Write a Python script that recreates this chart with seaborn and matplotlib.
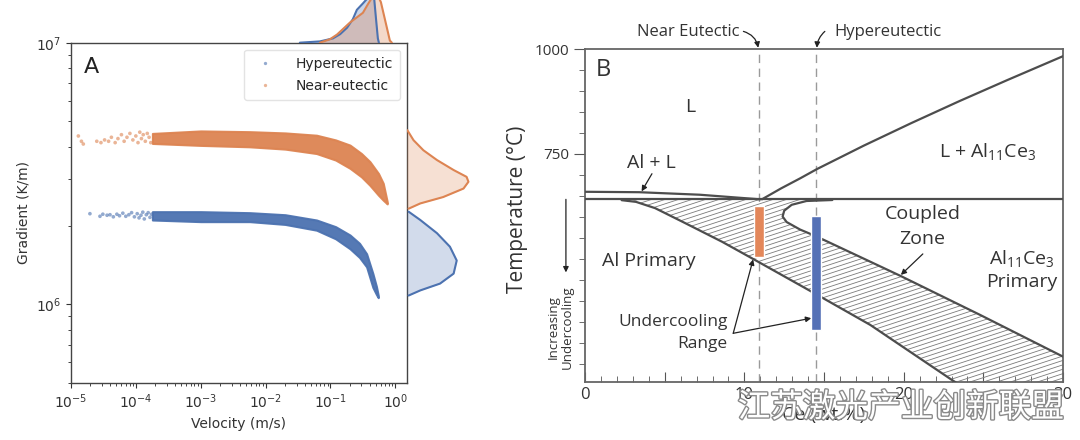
import numpy as np
import pandas as pd
import seaborn as sns
import matplotlib.pyplot as plt
import matplotlib.patheffects as pe
from matplotlib.patches import Polygon
from matplotlib.collections import LineCollection
from matplotlib.ticker import LogLocator, NullFormatter, MultipleLocator, FixedLocator

# ---------------- panel A: values ----------------
alloys = ["Hypereutectic", "Near-eutectic"]

# dense bands (velocity m/s, gradient K/m upper / lower edge)
hyper_v = [1.8e-4, 1e-3, 5.7e-3, 0.02, 0.061, 0.12, 0.2, 0.28, 0.36, 0.45, 0.51, 0.545]
hyper_hi = [2.26e6, 2.26e6, 2.24e6, 2.2e6, 2.10e6, 1.98e6, 1.84e6, 1.71e6, 1.56e6, 1.31e6, 1.17e6, 1.08e6]
hyper_lo = [2.1e6, 2.07e6, 2.07e6, 2.02e6, 1.92e6, 1.78e6, 1.63e6, 1.51e6, 1.39e6, 1.16e6, 1.09e6, 1.06e6]

near_v = [1.8e-4, 1e-3, 5.7e-3, 0.02, 0.061, 0.12, 0.2, 0.3, 0.405, 0.55, 0.65, 0.75]
near_hi = [4.5e6, 4.6e6, 4.57e6, 4.52e6, 4.43e6, 4.25e6, 4.06e6, 3.77e6, 3.51e6, 3.16e6, 2.9e6, 2.46e6]
near_lo = [4.12e6, 4.05e6, 4.0e6, 3.92e6, 3.77e6, 3.56e6, 3.31e6, 3.07e6, 2.85e6, 2.61e6, 2.5e6, 2.42e6]

# sparse points at low velocity
hyper_sp_v = [1.96e-5, 2.8e-5, 3.1e-5, 3.6e-5, 4.0e-5, 4.5e-5, 5.1e-5, 5.6e-5, 6.3e-5, 7.0e-5, 7.8e-5,
              8.6e-5, 9.5e-5, 1.05e-4, 1.12e-4, 1.2e-4, 1.28e-4, 1.35e-4, 1.45e-4, 1.55e-4, 1.65e-4, 1.75e-4]
hyper_sp_g = [2.22e6, 2.17e6, 2.21e6, 2.19e6, 2.2e6, 2.16e6, 2.21e6, 2.18e6, 2.23e6, 2.17e6, 2.2e6,
              2.24e6, 2.16e6, 2.22e6, 2.14e6, 2.19e6, 2.25e6, 2.12e6, 2.2e6, 2.24e6, 2.15e6, 2.21e6]
near_sp_v = [1.3e-5, 1.45e-5, 1.55e-5, 2.5e-5, 2.9e-5, 3.3e-5, 3.8e-5, 4.2e-5, 4.8e-5, 5.3e-5, 6.0e-5,
             6.6e-5, 7.3e-5, 8.1e-5, 9.0e-5, 1.0e-4, 1.08e-4, 1.15e-4, 1.22e-4, 1.3e-4, 1.4e-4, 1.5e-4,
             1.6e-4, 1.7e-4]
near_sp_g = [4.4e6, 4.2e6, 4.1e6, 4.2e6, 4.15e6, 4.25e6, 4.2e6, 4.35e6, 4.15e6, 4.3e6, 4.45e6,
             4.2e6, 4.35e6, 4.5e6, 4.25e6, 4.4e6, 4.15e6, 4.55e6, 4.3e6, 4.45e6, 4.2e6, 4.5e6,
             4.35e6, 4.15e6]

# marginal density of gradient (right) - relative units
hyper_kde_g = [2.26e6, 2.10e6, 1.87e6, 1.66e6, 1.47e6, 1.31e6, 1.20e6, 1.13e6, 1.08e6]
hyper_kde_d = [0.03, 0.22, 0.49, 0.70, 0.81, 0.76, 0.54, 0.22, 0.03]
near_kde_g = [4.63e6, 4.24e6, 3.88e6, 3.56e6, 3.26e6, 3.07e6, 2.94e6, 2.77e6, 2.57e6, 2.43e6, 2.32e6]
near_kde_d = [0.01, 0.11, 0.27, 0.49, 0.76, 0.97, 1.0, 0.92, 0.59, 0.22, 0.03]

# marginal density of velocity (top) - only the part below the figure edge is visible
hyper_top_v = [0.0337, 0.0687, 0.109, 0.141, 0.180, 0.221, 0.255, 0.316, 0.377, 0.434, 0.467, 0.50, 0.537, 0.557]
hyper_top_d = [0.0, 0.03, 0.1, 0.2, 0.35, 0.55, 0.77, 0.92, 1.05, 1.2, 1.1, 0.6, 0.1, 0.0]
near_top_v = [0.0687, 0.098, 0.126, 0.199, 0.316, 0.377, 0.434, 0.537, 0.598, 0.689, 0.766, 0.822, 0.883]
near_top_d = [0.0, 0.08, 0.19, 0.47, 0.7, 0.9, 1.05, 1.1, 0.95, 0.55, 0.25, 0.05, 0.0]

# ---------------- panel B: phase diagram values ----------------
ce_near, ce_hyper = 10.9, 14.5
eutectic_T = 642
al_liq_ce = [0, 3.4, 7.2, 11.0]
al_liq_T = [660, 659, 653, 642]
ce_liq_ce = [11.1, 12.3, 13.5, 14.55, 17.5, 20.5, 23.5, 26.5, 30]
ce_liq_T = [642, 668, 692, 714, 770, 824, 876, 926, 983]
left_ce = [2.3, 3.2, 4.4, 6.2, 8.6, 10.6, 14.6, 17.9, 23.1, 23.96]
left_T = [640, 636, 621, 587, 541, 499, 414, 343, 210, 190]
right_ce = [15.52, 13.9, 12.97, 12.5, 12.4, 12.65, 13.5, 14.55, 19.82, 24.8, 30.0]
right_T = [640.4, 638.1, 629.0, 615.0, 601.0, 588.0, 570.0, 553.2, 459.3, 366.7, 267.4]
bar_ce = [ce_near, ce_hyper]
bar_top = [627, 603]
bar_bottom = [504, 331]

blue, orange = sns.color_palette("deep")[0], sns.color_palette("deep")[1]
bar_colors = ["#e3875a", "#5571b6"]

sns.set_style("ticks")
plt.rcParams["font.family"] = ["DejaVu Sans"]
plt.rcParams["mathtext.rm"] = "Open Sans"
plt.rcParams["mathtext.it"] = "Open Sans:italic"
plt.rcParams["mathtext.bf"] = "Open Sans:bold"
fig = plt.figure(figsize=(10.8, 4.4), dpi=100)

# ---------------- panel A ----------------
axA = fig.add_axes([0.0657, 0.1295, 0.3108, 0.7734])
axR = fig.add_axes([0.3766, 0.1295, 0.0648, 0.7734], sharey=axA)
axT = fig.add_axes([0.0657, 0.903, 0.3108, 0.097], sharex=axA)

axA.set_xscale("log")
axA.set_yscale("log")
axA.set_xlim(1e-5, 1.49)
axA.set_ylim(5e5, 1e7)

axA.fill_between(hyper_v, hyper_lo, hyper_hi, color=blue, lw=1.5, edgecolor=blue, alpha=0.95)
axA.fill_between(near_v, near_lo, near_hi, color=orange, lw=1.5, edgecolor=orange, alpha=0.95)

pts = pd.DataFrame({
    "v": hyper_sp_v + near_sp_v,
    "g": hyper_sp_g + near_sp_g,
    "alloy": [alloys[0]] * len(hyper_sp_v) + [alloys[1]] * len(near_sp_v),
})
sns.scatterplot(data=pts, x="v", y="g", hue="alloy", hue_order=alloys,
                palette=[blue, orange], s=7, alpha=0.6, linewidth=0, ax=axA)
leg = axA.legend(loc="upper right", fontsize=10, markerscale=0.9, frameon=True,
                 borderpad=0.5, handletextpad=1.2, labelspacing=0.6)
leg.get_frame().set_edgecolor("#dddddd")

axA.set_xlabel("Velocity (m/s)", fontsize=10, color="#333333")
axA.set_ylabel("Gradient (K/m)", fontsize=10, color="#333333")
axA.xaxis.set_major_locator(LogLocator(base=10, numticks=10))
axA.yaxis.set_minor_formatter(NullFormatter())
axA.tick_params(labelsize=10, colors="#333333")
for s in axA.spines.values():
    s.set_color("#444444")
    s.set_linewidth(1.0)
axA.text(0.037, 0.958, "A", transform=axA.transAxes, fontsize=16, ha="left", va="top", color="#222222")

# right marginal
for g, d, c in [(hyper_kde_g, hyper_kde_d, blue), (near_kde_g, near_kde_d, orange)]:
    axR.fill_betweenx(g, 0, d, color=c, alpha=0.25, lw=0)
    sns.lineplot(x=d, y=g, orient="y", sort=False, color=c, lw=1.5, ax=axR)
axR.set_xlim(0, 1.134)
axR.axis("off")

# top marginal
for v, d, c in [(hyper_top_v, hyper_top_d, blue), (near_top_v, near_top_d, orange)]:
    axT.fill_between(v, 0, d, color=c, alpha=0.3, lw=0)
    sns.lineplot(x=v, y=d, sort=False, color=c, lw=1.5, ax=axT)
axT.set_ylim(0, 1)
axT.axis("off")

# ---------------- panel B ----------------
rf = ["Open Sans", "DejaVu Sans"]
ink = "#333333"
lc = "#4d4d4d"
axB = fig.add_axes([0.5417, 0.1318, 0.4426, 0.7568])
axB.set_xlim(0, 30)
axB.set_ylim(207, 1000)

# coupled zone with fine hatching
zone = Polygon(list(zip(right_ce, right_T)) + [(30, 190)] + list(zip(left_ce[::-1], left_T[::-1])),
               closed=True, facecolor="none", edgecolor="none")
axB.add_patch(zone)
offsets = np.arange(-250, 800, 10.5)
segs = [[(0, c), (30, c + 12.4 * 30)] for c in offsets]
hatch = LineCollection(segs, colors="#7a7a7a", linewidths=0.6, zorder=1)
axB.add_collection(hatch)
hatch.set_clip_path(zone)

axB.axhline(eutectic_T, color=lc, lw=1.6, zorder=3)
for xs, ys in [(al_liq_ce, al_liq_T), (ce_liq_ce, ce_liq_T), (left_ce, left_T), (right_ce, right_T)]:
    sns.lineplot(x=xs, y=ys, sort=False, estimator=None, color=lc, lw=1.6, ax=axB, zorder=3)

for xc in [ce_near, ce_hyper]:
    axB.axvline(xc, color="#9a9a9a", lw=1.0, ls=(0, (6, 4)), zorder=2)

axB.bar(bar_ce, np.array(bar_top) - np.array(bar_bottom), bottom=bar_bottom, width=0.65,
        color=bar_colors, zorder=4)

arw = dict(arrowstyle="-|>", color="#222222", lw=0.9, mutation_scale=8, shrinkA=0, shrinkB=0)
txt = dict(fontfamily=rf, color=ink, ha="center", va="center", math_fontfamily="custom")
axB.text(0.022, 0.973, "B", transform=axB.transAxes, fontsize=17, fontfamily=rf, color=ink, ha="left", va="top")
axB.text(6.62, 863, "L", fontsize=14, **txt)
axB.text(4.14, 728, "Al + L", fontsize=14, **txt)
axB.annotate("", xy=(3.55, 661), xytext=(4.2, 703), arrowprops=arw)
axB.text(25.24, 755, r"L + Al$_{11}$Ce$_3$", fontsize=14, **txt)
axB.text(4.0, 494, "Al Primary", fontsize=14, **txt)
axB.text(21.17, 577, "Coupled\nZone", fontsize=14, linespacing=1.45, **txt)
axB.annotate("", xy=(19.82, 462), xytext=(21.2, 512), arrowprops=arw)
axB.text(27.4, 474, "Al$_{11}$Ce$_3$\nPrimary", fontsize=14, linespacing=1.3, **txt)
axB.text(5.53, 351, "Undercooling", fontsize=12.5, **txt)
axB.text(7.34, 298, "Range", fontsize=12.5, **txt)
axB.annotate("", xy=(10.55, 499), xytext=(9.3, 323), arrowprops=arw)
axB.annotate("", xy=(14.2, 359), xytext=(9.3, 323), arrowprops=arw)

axB.text(6.46, 1041, "Near Eutectic", fontsize=12, clip_on=False, **txt)
axB.text(19.0, 1041, "Hypereutectic", fontsize=12, clip_on=False, **txt)
axB.annotate("", xy=(10.87, 1003), xytext=(9.94, 1042), annotation_clip=False,
             arrowprops=dict(arw, connectionstyle="arc3,rad=-0.3"))
axB.annotate("", xy=(14.55, 1003), xytext=(15.05, 1042), annotation_clip=False,
             arrowprops=dict(arw, connectionstyle="arc3,rad=0.2"))

axB.annotate("", xy=(-1.2, 468), xytext=(-1.2, 642), annotation_clip=False, arrowprops=arw)
axB.text(-1.57, 337, "Increasing\nUndercooling", fontsize=9.5, rotation=90, clip_on=False,
         linespacing=1.05, **txt)

axB.xaxis.set_major_locator(MultipleLocator(5))
axB.xaxis.set_minor_locator(MultipleLocator(1))
axB.set_xticklabels(["" if int(t) % 10 else str(int(t)) for t in axB.get_xticks()])
axB.yaxis.set_major_locator(FixedLocator([750, 1000]))
axB.yaxis.set_minor_locator(MultipleLocator(50))
axB.tick_params(axis="x", which="both", direction="in", colors="#555555", labelsize=12)
axB.tick_params(axis="x", which="major", length=7)
axB.tick_params(axis="x", which="minor", length=4)
axB.tick_params(axis="y", which="both", direction="out", colors="#555555", labelsize=11)
axB.tick_params(axis="y", which="major", length=8)
axB.tick_params(axis="y", which="minor", length=4)
for lab in axB.get_xticklabels() + axB.get_yticklabels():
    lab.set_fontfamily(rf)
    lab.set_color(ink)
for s in axB.spines.values():
    s.set_color("#666666")
    s.set_linewidth(1.3)
axB.set_ylabel("Temperature (°C)", fontsize=15, fontfamily=rf, color=ink)
axB.yaxis.set_label_coords(-0.12, 0.52)
axB.set_xlabel("Ce (wt.%)", fontsize=14, fontfamily=rf, color=ink, labelpad=2)

fig.text(0.834, 0.073, "江苏激光产业创新联盟", fontsize=23.5, color="white", ha="center", va="center",
         family=["Noto Sans CJK SC", "DejaVu Sans"],
         path_effects=[pe.withStroke(linewidth=2, foreground="#8a8a8a")])

fig.savefig("out.png", dpi=100)
